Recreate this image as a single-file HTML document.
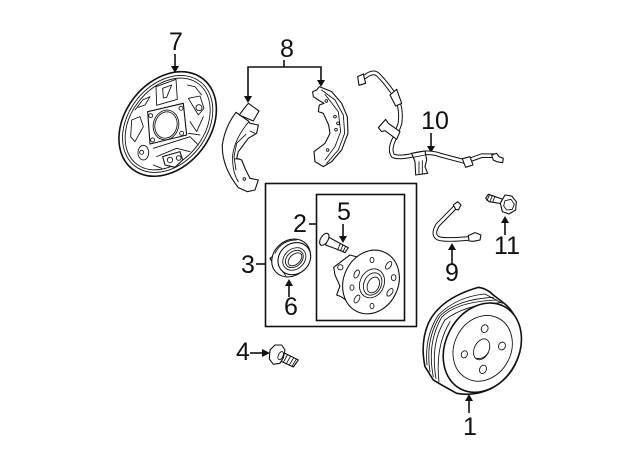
<!DOCTYPE html>
<html><head><meta charset="utf-8"><style>
html,body{margin:0;padding:0;background:#fff}
svg{display:block}
text{font-family:"Liberation Sans",sans-serif;font-size:25px;fill:#111;text-anchor:middle}
.l{fill:#fff;stroke:#111;stroke-width:3.3;stroke-linejoin:round;stroke-linecap:round}
.o{stroke-width:4.8}
.n{fill:none;stroke:#111;stroke-width:2.6;stroke-linejoin:round;stroke-linecap:round}
.c{fill:none;stroke:#111;stroke-width:1.6}
.a{fill:#111;stroke:none}
</style></head><body>
<svg width="640" height="471" viewBox="0 0 640 471" xmlns="http://www.w3.org/2000/svg">
<!-- labels -->
<text x="176" y="50">7</text><text x="287" y="57">8</text><text x="435" y="129">10</text>
<text x="300" y="232">2</text><text x="344" y="220">5</text><text x="248" y="273">3</text>
<text x="291" y="315">6</text><text x="470" y="435">1</text><text x="452" y="281">9</text>
<text x="507" y="254">11</text><text x="243" y="360">4</text>

<!-- boxes -->
<rect x="265.500" y="183.500" width="151" height="143" fill="none" stroke="#111" stroke-width="1.600"/>
<rect x="316.500" y="194.500" width="88" height="126" fill="none" stroke="#111" stroke-width="1.600"/>

<!-- connectors -->
<g class="c">
<path d="M175 54V68"/>
<path d="M248 98V67H321V81M284 60V67"/>
<path d="M431 133V148"/>
<path d="M309 224H316"/><path d="M343 224V238"/>
<path d="M256 264H265"/><path d="M289 297V284"/>
<path d="M469 413V400"/><path d="M452 264V249"/>
<path d="M505 235V221"/><path d="M250 353H265"/>
</g>
<g class="a">
<path d="M175 73l-4-7h8z"/><path d="M248 103l-4-7h8z"/><path d="M321 87l-4-7h8z"/>
<path d="M431 153l-4-7h8z"/><path d="M343 243l-4-7h8z"/><path d="M289 279l-4 7h8z"/>
<path d="M469 394l-4 7h8z"/><path d="M452 243l-4 7h8z"/><path d="M505 216l-4 7h8z"/>
<path d="M270 353l-8-4v8z"/>
</g>

<!-- 7 backing plate -->
<g transform="translate(100,20) scale(.3333)">
<ellipse cx="203" cy="312" rx="172" ry="128" transform="rotate(-52 203 312)" class="l o"/>
<ellipse cx="203" cy="312" rx="160" ry="118" transform="rotate(-52 203 312)" class="n"/>
<ellipse cx="203" cy="312" rx="152" ry="110" transform="rotate(-52 203 312)" class="n"/>
<path class="n" d="M168 200L228 178L232 238L170 256Z"/>
<path class="n" d="M188 205L215 195L200 232L190 234Z"/>
<path class="l" d="M143 275L250 250L260 345L150 372Z"/>
<ellipse cx="198" cy="315" rx="38" ry="45" transform="rotate(15 198 315)" class="n"/>
<ellipse cx="198" cy="315" rx="33" ry="40" transform="rotate(15 198 315)" class="n"/>
<circle cx="152" cy="287" r="6" class="n"/><circle cx="243" cy="265" r="6" class="n"/><circle cx="158" cy="360" r="6" class="n"/><circle cx="245" cy="340" r="6" class="n"/>
<path class="n" d="M105 270L128 240L150 230L135 255L115 262M95 300L120 290L130 320L105 365L92 350Z"/>
<ellipse cx="130" cy="398" rx="16" ry="22" class="n"/><circle cx="125" cy="397" r="6" class="n"/>
<path class="n" d="M160 385L270 350L295 375M170 410L230 385L270 395M160 435L185 445"/>
<path class="l" d="M188 410L240 395L248 420L225 442L195 435Z"/>
<circle cx="210" cy="420" r="8" class="n"/><circle cx="236" cy="414" r="7" class="n"/>
<path class="n" d="M262 195L285 200L305 225M265 235L300 228L312 265L295 285L280 260Z"/>
<circle cx="297" cy="263" r="9" class="n"/>
<path class="n" d="M270 305L290 335L310 290M265 340L300 345"/>
</g>

<!-- 8 shoes -->
<g transform="translate(210,35) scale(.3333)">
<path class="l" d="M78 232Q45 275 37 330Q35 395 85 458L112 470L135 465L145 435L120 430L105 400L95 375L80 370L85 350L115 310L140 295L145 270L120 265L115 258Z"/>
<path class="l" d="M105 217L115 205L147 228L130 258L88 240Z"/>
<path class="n" d="M115 262Q75 310 68 360Q66 410 85 440M108 298L80 325L72 365L78 405M120 288L135 295M75 372L90 372"/>
<circle cx="103" cy="432" r="4" class="n"/>
<path class="l" d="M328 155L365 170L395 205L412 245L414 295L395 345L365 380L340 395L315 380L312 350L345 325L360 295L356 270L340 235L325 230L328 210L342 205L325 195L310 185L308 170L320 165Z"/>
<path class="n" d="M335 165L375 195L400 240L404 295L385 345L350 385M345 178L385 230L392 290L375 335L345 375"/>
<circle cx="349" cy="198" r="4" class="n"/><circle cx="375" cy="245" r="4" class="n"/><circle cx="384" cy="265" r="4" class="n"/><circle cx="378" cy="284" r="4" class="n"/><circle cx="353" cy="345" r="4" class="n"/>
</g>

<!-- 10 sensor -->
<g transform="translate(345,60) scale(.3333)">
<path d="M60 50Q85 30 100 45Q120 65 145 100Q172 135 165 190L150 232Q130 270 145 288Q165 295 205 285Q250 272 285 285L360 305L410 287L445 287" fill="none" stroke="#111" stroke-width="14" stroke-linejoin="round" stroke-linecap="round"/>
<path d="M60 50Q85 30 100 45Q120 65 145 100Q172 135 165 190L150 232Q130 270 145 288Q165 295 205 285Q250 272 285 285L360 305L410 287L445 287" fill="none" stroke="#fff" stroke-width="8" stroke-linejoin="round" stroke-linecap="round"/>
<path class="l" d="M38 50L55 42L62 70L42 76Z"/>
<path class="l" d="M135 105L155 88L170 130L152 138Z"/>
<path class="l" d="M100 203L122 178L130 190L165 215L155 238L120 212L110 215Z"/>
<path class="l" d="M200 280L240 273L245 300L240 320L248 340L212 345L210 305Z"/>
<path class="n" d="M222 305V342M232 302V340M205 292L240 285"/>
<path class="l" d="M352 296L375 290L384 315L362 322Z"/>
<path class="l" d="M440 285L455 280L462 290L475 295L473 308L455 305L445 300Z"/>
</g>

<!-- 3/6 bearing -->
<g transform="translate(235,180) scale(.3333)">
<path class="l" d="M120 225L105 235L112 248L125 245Z"/>
<ellipse cx="168" cy="234" rx="62" ry="52" transform="rotate(-42 168 234)" class="l"/>
<path class="n" d="M120 220Q140 180 185 180M130 255L152 287"/>
<ellipse cx="178" cy="236" rx="52" ry="45" transform="rotate(-42 178 236)" class="l"/>
<ellipse cx="178" cy="237" rx="38" ry="30" transform="rotate(-42 178 237)" class="n"/>
<ellipse cx="178" cy="237" rx="30" ry="22" transform="rotate(-42 178 237)" class="n"/>
<ellipse cx="180" cy="238" rx="24" ry="15" transform="rotate(-42 180 238)" class="n"/>
<!-- 5 stud -->
<path class="l" d="M278 170L330 198L340 203L330 218L320 213L272 195Z"/>
<ellipse cx="268" cy="178" rx="11" ry="20" transform="rotate(32 268 178)" class="l"/>
<path class="n" d="M316 190L308 210M324 195L316 213M332 199L324 216"/>
<!-- 2 hub -->
<path class="l" d="M296 262L345 225L400 240L380 395L340 365L318 350L305 345L315 318L300 285Z"/>
<circle cx="316" cy="262" r="8" class="n"/>
<ellipse cx="408" cy="306" rx="82" ry="98" transform="rotate(25 408 306)" class="l"/>
<ellipse cx="411" cy="310" rx="36" ry="45" transform="rotate(25 411 310)" class="n"/>
<ellipse cx="413" cy="312" rx="26" ry="35" transform="rotate(25 413 312)" class="n"/>
<ellipse cx="415" cy="315" rx="17" ry="25" transform="rotate(25 415 315)" class="n"/>
<ellipse cx="411" cy="240" rx="6" ry="8" class="n"/><ellipse cx="461" cy="256" rx="7" ry="13" transform="rotate(35 461 256)" class="n"/>
<ellipse cx="476" cy="293" rx="7" ry="9" class="n"/><ellipse cx="465" cy="337" rx="7" ry="13" transform="rotate(35 465 337)" class="n"/>
<ellipse cx="411" cy="378" rx="6" ry="8" class="n"/><ellipse cx="366" cy="357" rx="7" ry="13" transform="rotate(30 366 357)" class="n"/>
<ellipse cx="351" cy="323" rx="6" ry="8" class="n"/><ellipse cx="365" cy="282" rx="7" ry="13" transform="rotate(25 365 282)" class="n"/>
</g>

<!-- 4 bolt -->
<g transform="translate(230,335) scale(.3333)">
<path class="l" d="M155 50L205 75L190 96L145 75Z"/>
<path class="n" d="M172 60L160 82M181 65L169 86M190 70L178 90M198 74L186 94"/>
<path class="l" d="M135 30L155 30L165 45L160 68L150 85L130 88L118 72L120 45Z"/>
<ellipse cx="152" cy="62" rx="7" ry="13" transform="rotate(25 152 62)" class="n"/>
</g>

<!-- 1 drum -->
<g transform="translate(415,280) scale(.3333)">
<path class="l o" d="M40 130Q75 55 190 22Q215 25 235 45L270 72Q315 110 317 190Q310 280 230 325Q180 350 125 340L80 315L55 300L30 260Q15 190 40 130Z"/>
<path class="n" d="M36 255Q28 170 70 105Q125 50 210 42L262 70M45 275Q30 180 75 108Q125 58 235 52M55 290Q35 190 80 112Q125 65 245 60M63 296Q45 190 90 120Q145 75 255 68M72 306Q60 200 105 125"/>
<ellipse cx="202" cy="203" rx="110" ry="140" transform="rotate(28 202 203)" class="l o"/>
<ellipse cx="203" cy="205" rx="85" ry="102" transform="rotate(28 203 205)" class="n"/>
<ellipse cx="200" cy="208" rx="22" ry="33" transform="rotate(25 200 208)" class="n"/>
<path class="n" d="M185 235Q205 240 220 218"/>
<ellipse cx="209" cy="146" rx="10" ry="12" transform="rotate(25 209 146)" class="n"/>
<ellipse cx="261" cy="198" rx="10" ry="12" transform="rotate(25 261 198)" class="n"/>
<ellipse cx="204" cy="268" rx="10" ry="13" transform="rotate(25 204 268)" class="n"/>
<ellipse cx="148" cy="223" rx="9" ry="11" transform="rotate(25 148 223)" class="n"/>
</g>

<!-- 9 hose, 11 bolt -->
<g transform="translate(425,180) scale(.3333)">
<path d="M90 82L38 135Q20 165 40 175Q60 182 135 175" fill="none" stroke="#111" stroke-width="14" stroke-linejoin="round" stroke-linecap="round"/>
<path d="M90 82L38 135Q20 165 40 175Q60 182 135 175" fill="none" stroke="#fff" stroke-width="8" stroke-linejoin="round" stroke-linecap="round"/>
<path class="l" d="M85 75L98 65L108 75L100 90L92 88Z"/>
<path class="l" d="M130 167L150 158L168 165L165 180L145 184L132 183Z"/>
<path class="l" d="M190 43L240 60L236 72L192 65L182 55Z"/>
<path class="n" d="M194 43L186 62M202 46L195 64M210 49L203 66"/>
<path class="l" d="M240 45L260 48L274 65L272 90L252 102L232 95L226 70Z"/>
<path class="n" d="M240 62L258 58L268 72L262 88L245 90L236 78Z"/>
</g>
</svg>
</body></html>
